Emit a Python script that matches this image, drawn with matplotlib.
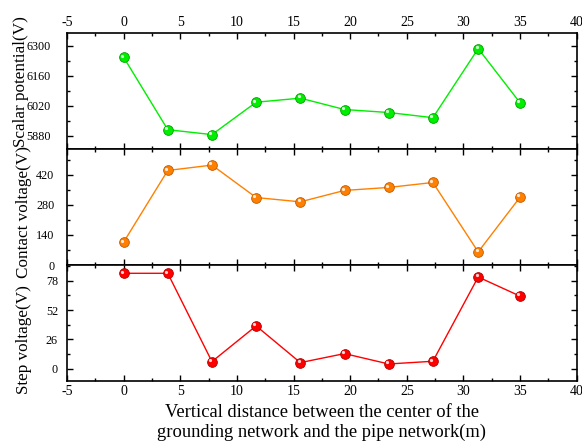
import matplotlib
matplotlib.use('Agg')
import matplotlib.pyplot as plt
from matplotlib.ticker import MultipleLocator, AutoMinorLocator
from matplotlib.transforms import offset_copy

plt.rcParams['font.family'] = ['Liberation Serif', 'DejaVu Serif']
plt.rcParams['axes.unicode_minus'] = False

# 距離(m)
distance = [0, 3.9, 7.8, 11.7, 15.6, 19.5, 23.4, 27.3, 31.3, 35]
scalar_potential = [6247, 5909, 5886, 6037, 6056, 6003, 5989, 5965, 6287, 6034]
contact_voltage = [106, 440, 465, 314, 294, 347, 361, 384, 61, 316]
step_voltage = [84.6, 84.6, 6.2, 37.9, 5.3, 13.3, 4.1, 6.5, 81.3, 64.3]

panels = [
    ('Scalar potential(V)', scalar_potential, '#00ee00', '#00a000', (5819, 6360), [5880, 6020, 6160, 6300]),
    ('Contact voltage(V)', contact_voltage, '#ff8000', '#c05a00', (0, 540), [0, 140, 280, 420]),
    ('Step voltage(V)', step_voltage, '#ff0000', '#b00000', (-11, 92), [0, 26, 52, 78]),
]
ypads = [11.5, 9, 6.5]
label_xy = [(-0.0745, 0.578), (-0.0686, 0.457), (-0.0686, 0.353)]

fig = plt.figure(figsize=(5.82, 4.43), dpi=100)
bottoms = [0.6637, 0.4018, 0.14]
axes = []
for i, (label, vals, col, edge, ylim, yt) in enumerate(panels):
    ax = fig.add_axes([0.115, bottoms[i], 0.876, 0.2619])
    ax.plot(distance, vals, color=col, lw=1.0, marker='o', ms=7,
            mfc=col, mec=edge, mew=0.6, zorder=3)
    # ハイライト
    hl = offset_copy(ax.transData, fig=fig, x=-1.2, y=1.2, units='points')
    ax.plot(distance, vals, ls='none', marker='o', ms=2.3, mfc='white',
            mec='none', alpha=0.85, transform=hl, zorder=4)
    ax.set_xlim(-5, 40)
    ax.set_ylim(*ylim)
    ax.set_yticks(yt)
    ax.xaxis.set_major_locator(MultipleLocator(5))
    ax.xaxis.set_minor_locator(AutoMinorLocator(2))
    ax.yaxis.set_minor_locator(AutoMinorLocator(2))
    ax.tick_params(which='both', direction='in', top=True, right=True, width=1.0)
    ax.tick_params(which='major', length=4)
    ax.tick_params(which='minor', length=2.5)
    ax.tick_params(axis='x', labelsize=10, pad=3)
    ax.tick_params(axis='y', labelsize=8.7, pad=ypads[i])
    ax.set_ylabel(label, fontsize=12.3)
    ax.yaxis.set_label_coords(*label_xy[i])
    for s in ax.spines.values():
        s.set_linewidth(1.2)
    if i == 0:
        ax.tick_params(labeltop=True, labelbottom=False)
    elif i == 1:
        ax.tick_params(labelbottom=False)
    axes.append(ax)

axes[2].set_xlabel('Vertical distance between the center of the\ngrounding network and the pipe network(m)',
                   fontsize=13.3, linespacing=1.25, labelpad=4)

fig.savefig('out.png', dpi=100)
